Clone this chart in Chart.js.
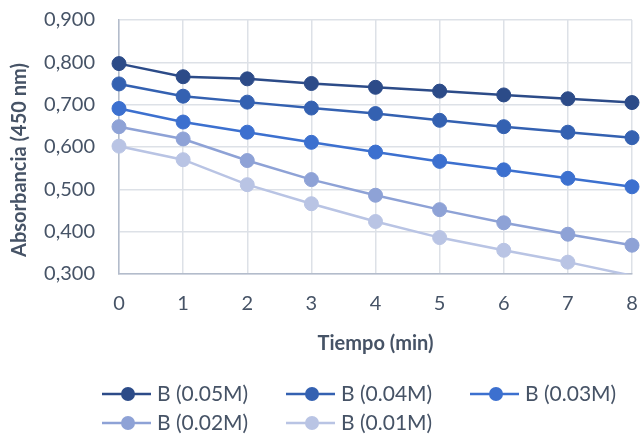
<!DOCTYPE html>
<html>
<head>
<meta charset="utf-8">
<script src="https://cdn.jsdelivr.net/npm/chart.js@4/dist/chart.umd.min.js"></script>
<style>
  html, body { margin: 0; padding: 0; background: #fff; }
  #wrap { width: 643px; height: 435px; }
</style>
</head>
<body>
<div id="wrap"><canvas id="container"></canvas></div>
<script>
const TIMES = ["0", "1", "2", "3", "4", "5", "6", "7", "8"];

const B_005 = [0.797, 0.766, 0.761, 0.750, 0.741, 0.732, 0.723, 0.714, 0.705];
const B_004 = [0.749, 0.720, 0.706, 0.692, 0.679, 0.663, 0.648, 0.635, 0.622];
const B_003 = [0.691, 0.659, 0.635, 0.611, 0.588, 0.566, 0.546, 0.526, 0.506];
const B_002 = [0.648, 0.619, 0.568, 0.523, 0.486, 0.452, 0.421, 0.394, 0.368];
const B_001 = [0.602, 0.570, 0.511, 0.466, 0.424, 0.386, 0.356, 0.328, 0.296];

const LABELS = ["B (0.05M)", "B (0.04M)", "B (0.03M)", "B (0.02M)", "B (0.01M)"];
const COLORS = ["#2c4b88", "#3461b1", "#3c70cf", "#8ea2d6", "#b9c4e4"];

const Y_TITLE = "Absorbancia (450 nm)";
const Y_MIN = 0.3;
const Y_MAX = 0.9;
const FONT = "Lato, 'Open Sans', sans-serif";
const TEXT = "#465366";

const makeSet = (label, data, color) => ({
  label: label,
  data: data,
  borderColor: color,
  backgroundColor: color,
  borderWidth: 2.5,
  pointRadius: (ctx) => (ctx.raw < Y_MIN ? 0 : 7),
  pointHoverRadius: 7,
  pointBorderWidth: 1,
  pointBorderColor: color,
  tension: 0,
});

// excel style legend (line + marker, left aligned grid) and y title
const excelExtras = {
  id: "excelExtras",
  afterDraw(chart) {
    const ctx = chart.ctx;
    const cols = [102, 286, 470];
    const rows = [394, 423];
    ctx.save();
    chart.data.datasets.forEach((ds, i) => {
      const x = cols[i % 3];
      const y = rows[Math.floor(i / 3)];
      ctx.strokeStyle = ds.borderColor;
      ctx.lineWidth = 2.5;
      ctx.beginPath();
      ctx.moveTo(x, y);
      ctx.lineTo(x + 49, y);
      ctx.stroke();
      ctx.fillStyle = ds.backgroundColor;
      ctx.beginPath();
      ctx.arc(x + 26, y, 7, 0, Math.PI * 2);
      ctx.fill();
      ctx.fillStyle = TEXT;
      ctx.font = "21px " + FONT;
      ctx.textBaseline = "middle";
      ctx.textAlign = "left";
      ctx.fillText(ds.label, x + 55, y);
    });

    ctx.translate(20, 160);
    ctx.rotate(-Math.PI / 2);
    ctx.fillStyle = TEXT;
    ctx.font = "bold 20px " + FONT;
    ctx.textAlign = "center";
    ctx.textBaseline = "middle";
    ctx.fillText(Y_TITLE, 0, 0);
    ctx.restore();
  },
};

new Chart(document.getElementById("container"), {
  type: "line",
  data: {
    labels: TIMES,
    datasets: [
      makeSet(LABELS[0], B_005, COLORS[0]),
      makeSet(LABELS[1], B_004, COLORS[1]),
      makeSet(LABELS[2], B_003, COLORS[2]),
      makeSet(LABELS[3], B_002, COLORS[3]),
      makeSet(LABELS[4], B_001, COLORS[4]),
    ],
  },
  plugins: [excelExtras],
  options: {
    responsive: true,
    maintainAspectRatio: false,
    animation: false,
    layout: { padding: { left: 0, right: 11, top: 20, bottom: 79 } },
    plugins: {
      legend: { display: false },
      tooltip: { enabled: false },
    },
    scales: {
      x: {
        type: "category",
        offset: false,
        grid: { color: "#dde1e7", lineWidth: 1.5, drawTicks: false },
        border: { color: "#b3bccb", width: 1.5 },
        ticks: { color: TEXT, font: { family: FONT, size: 20 }, padding: 18, maxRotation: 0 },
        title: {
          display: true,
          text: "Tiempo (min)",
          color: TEXT,
          font: { family: FONT, size: 20, weight: "bold" },
          padding: 0,
        },
        afterFit(scale) {
          scale.height = 82;
          scale.paddingLeft = 0;
          scale.paddingRight = 0;
        },
      },
      y: {
        min: Y_MIN,
        max: Y_MAX,
        grid: { color: "#dde1e7", lineWidth: 1.5, drawTicks: false },
        border: { color: "#b3bccb", width: 1.5 },
        ticks: {
          stepSize: 0.1,
          color: TEXT,
          font: { family: FONT, size: 20 },
          padding: 24,
          callback: (v) => v.toFixed(3).replace(".", ","),
        },
        afterFit(scale) {
          scale.width = 119;
          scale.paddingTop = 0;
          scale.paddingBottom = 0;
        },
      },
    },
  },
});
</script>
</body>
</html>
